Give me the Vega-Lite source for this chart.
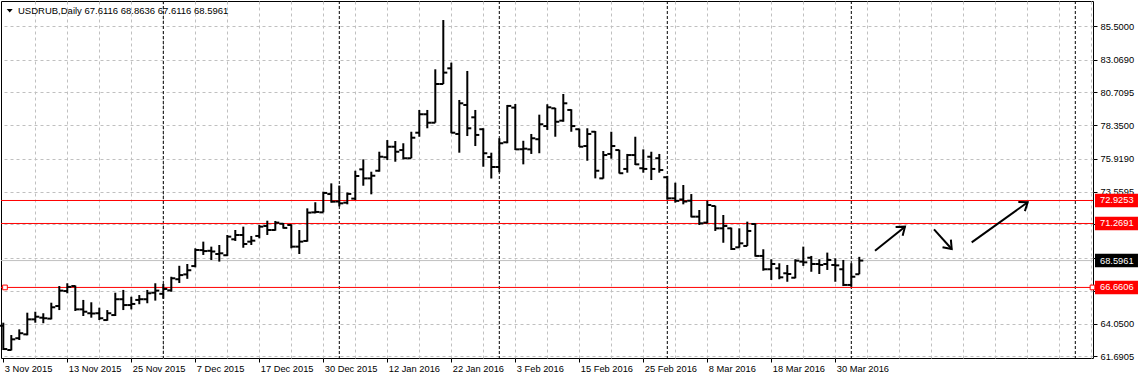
{
  "$schema": "https://vega.github.io/schema/vega-lite/v6.json",
  "width": 1092,
  "height": 357,
  "autosize": {"type": "none"},
  "padding": {"left": 1, "top": 1, "right": 45, "bottom": 22},
  "background": "white",
  "config": {
    "view": {"stroke": "black", "strokeWidth": 1},
    "font": "Liberation Sans",
    "axis": {"labelFont": "Liberation Sans", "labelFontSize": 9.3, "labelColor": "black", "tickColor": "black", "title": null}
  },
  "datasets": {
    "bars": [
      {"d":"2015-11-03","i":0,"o":63.9,"h":64.12,"l":62.15,"c":62.22},
      {"d":"2015-11-04","i":1,"o":62.15,"h":63.23,"l":62.12,"c":62.92},
      {"d":"2015-11-05","i":2,"o":63.0,"h":63.64,"l":62.87,"c":63.36},
      {"d":"2015-11-06","i":3,"o":63.28,"h":64.84,"l":63.21,"c":64.36},
      {"d":"2015-11-09","i":4,"o":64.36,"h":64.91,"l":64.12,"c":64.55},
      {"d":"2015-11-10","i":5,"o":64.48,"h":64.8,"l":64.08,"c":64.44},
      {"d":"2015-11-11","i":6,"o":64.41,"h":65.56,"l":64.36,"c":65.23},
      {"d":"2015-11-12","i":7,"o":65.32,"h":66.76,"l":65.03,"c":66.43},
      {"d":"2015-11-13","i":8,"o":66.4,"h":66.96,"l":66.24,"c":66.7},
      {"d":"2015-11-16","i":9,"o":66.76,"h":66.8,"l":64.96,"c":65.08},
      {"d":"2015-11-17","i":10,"o":65.08,"h":65.76,"l":64.6,"c":64.91},
      {"d":"2015-11-18","i":11,"o":64.8,"h":65.59,"l":64.48,"c":64.78},
      {"d":"2015-11-19","i":12,"o":64.8,"h":65.2,"l":64.31,"c":64.44},
      {"d":"2015-11-20","i":13,"o":64.31,"h":65.03,"l":64.26,"c":64.8},
      {"d":"2015-11-23","i":14,"o":64.67,"h":66.28,"l":64.6,"c":65.81},
      {"d":"2015-11-24","i":15,"o":65.81,"h":66.48,"l":65.03,"c":65.39},
      {"d":"2015-11-25","i":16,"o":65.39,"h":65.99,"l":65.08,"c":65.47},
      {"d":"2015-11-26","i":17,"o":65.76,"h":66.11,"l":65.45,"c":65.81},
      {"d":"2015-11-27","i":18,"o":65.81,"h":66.48,"l":65.52,"c":66.24},
      {"d":"2015-11-30","i":19,"o":66.28,"h":66.96,"l":65.71,"c":66.43},
      {"d":"2015-12-01","i":20,"o":66.2,"h":66.91,"l":65.85,"c":66.55},
      {"d":"2015-12-02","i":21,"o":66.45,"h":67.43,"l":66.35,"c":67.32},
      {"d":"2015-12-03","i":22,"o":67.25,"h":68.22,"l":66.98,"c":67.55},
      {"d":"2015-12-04","i":23,"o":67.6,"h":68.35,"l":67.28,"c":67.9},
      {"d":"2015-12-07","i":24,"o":68.2,"h":69.48,"l":68.11,"c":69.36},
      {"d":"2015-12-08","i":25,"o":69.35,"h":69.96,"l":69.0,"c":69.28},
      {"d":"2015-12-09","i":26,"o":69.3,"h":69.6,"l":68.64,"c":69.25},
      {"d":"2015-12-10","i":27,"o":69.07,"h":69.72,"l":68.52,"c":69.12},
      {"d":"2015-12-11","i":28,"o":68.98,"h":70.44,"l":68.93,"c":70.32},
      {"d":"2015-12-14","i":29,"o":70.13,"h":70.8,"l":70.01,"c":70.44},
      {"d":"2015-12-15","i":30,"o":70.44,"h":71.04,"l":69.52,"c":69.79},
      {"d":"2015-12-16","i":31,"o":69.96,"h":70.37,"l":69.72,"c":70.03},
      {"d":"2015-12-17","i":32,"o":70.37,"h":71.16,"l":70.2,"c":71.04},
      {"d":"2015-12-18","i":33,"o":71.09,"h":71.47,"l":70.44,"c":70.8},
      {"d":"2015-12-21","i":34,"o":70.8,"h":71.45,"l":70.75,"c":71.33},
      {"d":"2015-12-22","i":35,"o":71.25,"h":71.3,"l":70.9,"c":70.95},
      {"d":"2015-12-23","i":36,"o":71.16,"h":71.21,"l":69.48,"c":69.6},
      {"d":"2015-12-24","i":37,"o":69.6,"h":70.8,"l":69.07,"c":69.96},
      {"d":"2015-12-28","i":38,"o":70.01,"h":72.36,"l":69.96,"c":72.05},
      {"d":"2015-12-29","i":39,"o":72.07,"h":72.8,"l":72.0,"c":72.1},
      {"d":"2015-12-30","i":40,"o":72.07,"h":73.56,"l":72.07,"c":73.47},
      {"d":"2015-12-31","i":41,"o":73.39,"h":74.16,"l":72.77,"c":72.84},
      {"d":"2016-01-04","i":42,"o":72.85,"h":74.0,"l":72.5,"c":72.72},
      {"d":"2016-01-05","i":43,"o":72.77,"h":73.5,"l":72.65,"c":73.4},
      {"d":"2016-01-06","i":44,"o":73.06,"h":75.07,"l":72.96,"c":74.69},
      {"d":"2016-01-07","i":45,"o":75.17,"h":75.89,"l":73.99,"c":74.52},
      {"d":"2016-01-08","i":46,"o":74.52,"h":75.0,"l":73.37,"c":74.71},
      {"d":"2016-01-11","i":47,"o":75.07,"h":76.44,"l":75.0,"c":76.08},
      {"d":"2016-01-12","i":48,"o":76.04,"h":77.28,"l":75.84,"c":76.8},
      {"d":"2016-01-13","i":49,"o":76.8,"h":77.21,"l":75.72,"c":76.44},
      {"d":"2016-01-14","i":50,"o":76.56,"h":77.05,"l":75.89,"c":75.97},
      {"d":"2016-01-15","i":51,"o":75.97,"h":77.88,"l":75.97,"c":77.45},
      {"d":"2016-01-18","i":52,"o":77.81,"h":79.45,"l":77.52,"c":79.14},
      {"d":"2016-01-19","i":53,"o":79.14,"h":79.45,"l":78.13,"c":78.53},
      {"d":"2016-01-20","i":54,"o":78.53,"h":82.38,"l":78.53,"c":81.32},
      {"d":"2016-01-21","i":55,"o":81.32,"h":85.93,"l":81.32,"c":82.14},
      {"d":"2016-01-22","i":56,"o":82.45,"h":82.86,"l":77.77,"c":77.81},
      {"d":"2016-01-25","i":57,"o":77.72,"h":80.17,"l":76.37,"c":79.93},
      {"d":"2016-01-26","i":58,"o":79.81,"h":82.26,"l":77.57,"c":78.13},
      {"d":"2016-01-27","i":59,"o":78.92,"h":79.45,"l":76.85,"c":77.65},
      {"d":"2016-01-28","i":60,"o":78.06,"h":78.13,"l":75.36,"c":76.33},
      {"d":"2016-01-29","i":61,"o":76.06,"h":76.37,"l":74.51,"c":75.34},
      {"d":"2016-02-01","i":62,"o":75.34,"h":77.41,"l":74.96,"c":77.05},
      {"d":"2016-02-02","i":63,"o":77.12,"h":79.81,"l":77.05,"c":79.74},
      {"d":"2016-02-03","i":64,"o":79.62,"h":79.88,"l":76.56,"c":76.61},
      {"d":"2016-02-04","i":65,"o":76.62,"h":77.23,"l":75.53,"c":76.66},
      {"d":"2016-02-05","i":66,"o":76.61,"h":77.72,"l":76.28,"c":77.41},
      {"d":"2016-02-08","i":67,"o":77.34,"h":79.11,"l":76.33,"c":78.42},
      {"d":"2016-02-09","i":68,"o":78.29,"h":79.86,"l":78.01,"c":79.64},
      {"d":"2016-02-10","i":69,"o":79.57,"h":79.6,"l":77.52,"c":78.6},
      {"d":"2016-02-11","i":70,"o":78.68,"h":80.6,"l":78.6,"c":79.93},
      {"d":"2016-02-12","i":71,"o":79.45,"h":79.5,"l":77.88,"c":78.29},
      {"d":"2016-02-15","i":72,"o":78.06,"h":78.1,"l":76.78,"c":76.8},
      {"d":"2016-02-16","i":73,"o":76.85,"h":78.13,"l":75.79,"c":77.72},
      {"d":"2016-02-17","i":74,"o":77.88,"h":77.93,"l":74.52,"c":75.07},
      {"d":"2016-02-18","i":75,"o":74.52,"h":76.49,"l":74.5,"c":76.2},
      {"d":"2016-02-19","i":76,"o":76.28,"h":77.88,"l":75.94,"c":76.85},
      {"d":"2016-02-22","i":77,"o":76.56,"h":76.58,"l":74.87,"c":74.89},
      {"d":"2016-02-23","i":78,"o":75.2,"h":76.28,"l":74.93,"c":76.2},
      {"d":"2016-02-24","i":79,"o":76.2,"h":77.52,"l":75.48,"c":75.53},
      {"d":"2016-02-25","i":80,"o":75.25,"h":76.61,"l":74.93,"c":75.2},
      {"d":"2016-02-26","i":81,"o":76.08,"h":76.44,"l":74.4,"c":75.2},
      {"d":"2016-02-29","i":82,"o":75.97,"h":76.28,"l":74.93,"c":75.12},
      {"d":"2016-03-01","i":83,"o":74.6,"h":74.7,"l":72.98,"c":73.08},
      {"d":"2016-03-02","i":84,"o":73.08,"h":74.21,"l":72.77,"c":72.9},
      {"d":"2016-03-03","i":85,"o":73.0,"h":74.04,"l":72.65,"c":72.85},
      {"d":"2016-03-04","i":86,"o":72.91,"h":73.39,"l":71.71,"c":71.76},
      {"d":"2016-03-07","i":87,"o":71.76,"h":72.24,"l":71.16,"c":71.28},
      {"d":"2016-03-08","i":88,"o":71.33,"h":72.91,"l":71.28,"c":72.6},
      {"d":"2016-03-09","i":89,"o":72.53,"h":72.55,"l":70.73,"c":70.92},
      {"d":"2016-03-10","i":90,"o":70.92,"h":71.88,"l":69.88,"c":71.09},
      {"d":"2016-03-11","i":91,"o":70.92,"h":70.97,"l":69.36,"c":69.43},
      {"d":"2016-03-14","i":92,"o":69.55,"h":70.92,"l":69.52,"c":69.84},
      {"d":"2016-03-15","i":93,"o":69.65,"h":71.4,"l":69.65,"c":70.73},
      {"d":"2016-03-16","i":94,"o":71.23,"h":71.28,"l":68.88,"c":68.93},
      {"d":"2016-03-17","i":95,"o":68.93,"h":69.41,"l":67.87,"c":67.97},
      {"d":"2016-03-18","i":96,"o":67.97,"h":68.69,"l":67.2,"c":68.35},
      {"d":"2016-03-21","i":97,"o":68.04,"h":68.4,"l":67.25,"c":67.39},
      {"d":"2016-03-22","i":98,"o":67.68,"h":68.28,"l":67.07,"c":67.63},
      {"d":"2016-03-23","i":99,"o":67.36,"h":68.69,"l":67.32,"c":68.59},
      {"d":"2016-03-24","i":100,"o":68.52,"h":69.6,"l":68.21,"c":68.47},
      {"d":"2016-03-25","i":101,"o":68.8,"h":68.93,"l":67.79,"c":68.35},
      {"d":"2016-03-28","i":102,"o":68.35,"h":68.69,"l":67.63,"c":68.28},
      {"d":"2016-03-29","i":103,"o":68.35,"h":69.17,"l":67.92,"c":68.64},
      {"d":"2016-03-30","i":104,"o":68.28,"h":68.76,"l":67.07,"c":68.25},
      {"d":"2016-03-31","i":105,"o":67.97,"h":68.64,"l":66.76,"c":66.84},
      {"d":"2016-04-01","i":106,"o":66.84,"h":68.4,"l":66.71,"c":67.43},
      {"d":"2016-04-04","i":107,"o":67.6116,"h":68.8636,"l":67.6116,"c":68.5961}
    ],
    "levels": [
      {"p": 72.9253, "type": "level"},
      {"p": 71.2691, "type": "level"},
      {"p": 66.6606, "type": "level"},
      {"p": 68.5961, "type": "bid"}
    ],
    "handles": [
      {"i": 0.21, "p": 66.6606},
      {"i": 136.15, "p": 66.6606}
    ],
    "seps": [{"i": 20}, {"i": 42}, {"i": 62}, {"i": 83}, {"i": 106}, {"i": 134}],
    "arrows": [
      {"x0": 108.96, "p0": 69.31, "x1": 112.71, "p1": 71.04},
      {"x0": 116.34, "p0": 70.85, "x1": 118.55, "p1": 69.43},
      {"x0": 121.05, "p0": 69.91, "x1": 128.05, "p1": 72.8}
    ]
  },
  "layer": [
    {
      "data": {"name": "seps"},
      "mark": {"type": "rule", "color": "black", "strokeDash": [3, 2], "strokeWidth": 1},
      "encoding": {
        "x": {"field": "i", "type": "quantitative",
              "scale": {"domain": [-0.2875, 136.2125], "nice": false, "zero": false},
              "axis": {"orient": "top", "values": [3.9625,7.9625,11.9625,15.9625,19.9625,23.9625,27.9625,31.9625,35.9625,39.9625,43.9625,47.9625,51.9625,55.9625,59.9625,63.9625,67.9625,71.9625,75.9625,79.9625,83.9625,87.9625,91.9625,95.9625,99.9625,103.9625,107.9625,111.9625,115.9625,119.9625,123.9625,127.9625,131.9625,135.9625],
                       "grid": true, "gridColor": "#c0c0c0", "gridDash": [3, 3], "gridWidth": 1,
                       "labels": false, "ticks": false, "domain": false, "title": null}}
      }
    },
    {
      "data": {"name": "levels"},
      "mark": {"type": "rule", "strokeWidth": 1},
      "encoding": {
        "y": {"field": "p", "type": "quantitative", "scale": {"domain": [61.575, 87.3016], "nice": false, "zero": false},
              "axis": {"orient": "right", "values": [61.6905,64.05,66.4095,68.769,71.2,73.5595,75.919,78.35,80.7095,83.069,85.5],
                       "format": ".4f", "grid": true, "gridColor": "#c0c0c0", "gridDash": [3, 3], "gridWidth": 1,
                       "domain": false, "tickSize": 4, "tickColor": "black", "labelPadding": 3, "labelOverlap": false, "labelBound": false, "title": null}},
        "color": {"condition": {"test": "datum.type == 'bid'", "value": "#c0c0c0"}, "value": "#ff0000"}
      }
    },
    {
      "data": {"name": "bars"},
      "mark": {"type": "rule", "color": "black", "strokeWidth": 2},
      "encoding": {
        "x": {"field": "i", "type": "quantitative",
              "scale": {"domain": [-0.2875, 136.2125], "nice": false, "zero": false},
              "axis": {"orient": "bottom", "values": [0,8,16,24,32,40,48,56,64,72,80,88,96,104],
                       "labelExpr": "['3 Nov 2015','13 Nov 2015','25 Nov 2015','7 Dec 2015','17 Dec 2015','30 Dec 2015','12 Jan 2016','22 Jan 2016','3 Feb 2016','15 Feb 2016','25 Feb 2016','8 Mar 2016','18 Mar 2016','30 Mar 2016'][round(datum.value / 8)]",
                       "grid": false, "domain": false, "ticks": true, "tickSize": 4, "tickColor": "black",
                       "labelAlign": "left", "labelPadding": 2, "labelOffset": 1, "labelOverlap": false, "labelFlush": false, "labelBound": false, "title": null}},
        "y": {"field": "l", "type": "quantitative",
              "scale": {"domain": [61.575, 87.3016], "nice": false, "zero": false}, "axis": null},
        "y2": {"field": "h"}
      }
    },
    {
      "data": {"name": "bars"},
      "mark": {"type": "point", "shape": "M-1,0H0", "size": 64, "filled": false, "stroke": "black", "strokeWidth": 2, "opacity": 1},
      "encoding": {
        "x": {"field": "i", "type": "quantitative", "scale": {"domain": [-0.2875, 136.2125], "nice": false, "zero": false}, "axis": null},
        "y": {"field": "o", "type": "quantitative", "scale": {"domain": [61.575, 87.3016], "nice": false, "zero": false}, "axis": null}
      }
    },
    {
      "data": {"name": "bars"},
      "mark": {"type": "point", "shape": "M0,0H1", "size": 64, "filled": false, "stroke": "black", "strokeWidth": 2, "opacity": 1},
      "encoding": {
        "x": {"field": "i", "type": "quantitative", "scale": {"domain": [-0.2875, 136.2125], "nice": false, "zero": false}, "axis": null},
        "y": {"field": "c", "type": "quantitative", "scale": {"domain": [61.575, 87.3016], "nice": false, "zero": false}, "axis": null}
      }
    },
    {
      "data": {"name": "arrows"},
      "mark": {"type": "rule", "color": "black", "strokeWidth": 2},
      "encoding": {
        "x": {"field": "x0", "type": "quantitative", "scale": {"domain": [-0.2875, 136.2125], "nice": false, "zero": false}, "axis": null},
        "x2": {"field": "x1"},
        "y": {"field": "p0", "type": "quantitative", "scale": {"domain": [61.575, 87.3016], "nice": false, "zero": false}, "axis": null},
        "y2": {"field": "p1"}
      }
    },
    {
      "data": {"name": "arrows"},
      "transform": [{"calculate": "atan2(-(datum.p1 - datum.p0) * 13.877, (datum.x1 - datum.x0) * 8) * 180 / PI", "as": "ang"}],
      "mark": {"type": "point", "shape": "M-1,-0.75L0,0L-1,0.75", "size": 225, "filled": false, "stroke": "black", "strokeWidth": 2, "opacity": 1},
      "encoding": {
        "x": {"field": "x1", "type": "quantitative", "scale": {"domain": [-0.2875, 136.2125], "nice": false, "zero": false}, "axis": null},
        "y": {"field": "p1", "type": "quantitative", "scale": {"domain": [61.575, 87.3016], "nice": false, "zero": false}, "axis": null},
        "angle": {"field": "ang", "type": "quantitative", "scale": null}
      }
    },
    {
      "data": {"name": "handles"},
      "mark": {"type": "point", "shape": "square", "size": 22, "filled": true, "fill": "white", "stroke": "#ff0000", "strokeWidth": 1, "opacity": 1},
      "encoding": {
        "x": {"field": "i", "type": "quantitative", "scale": {"domain": [-0.2875, 136.2125], "nice": false, "zero": false}, "axis": null},
        "y": {"field": "p", "type": "quantitative", "scale": {"domain": [61.575, 87.3016], "nice": false, "zero": false}, "axis": null}
      }
    },
    {
      "data": {"name": "levels"},
      "mark": {"type": "point", "shape": "M-1.5,-0.47H1.5V0.47H-1.5Z", "size": 821, "filled": true, "strokeWidth": 0, "opacity": 1},
      "encoding": {
        "x": {"datum": 139.15, "type": "quantitative", "scale": {"domain": [-0.2875, 136.2125], "nice": false, "zero": false}, "axis": null},
        "y": {"field": "p", "type": "quantitative", "scale": {"domain": [61.575, 87.3016], "nice": false, "zero": false}, "axis": null},
        "fill": {"condition": {"test": "datum.type == 'bid'", "value": "black"}, "value": "#ff0000"}
      }
    },
    {
      "data": {"name": "levels"},
      "mark": {"type": "text", "align": "left", "baseline": "middle", "color": "white", "font": "Liberation Sans", "fontSize": 9.3},
      "encoding": {
        "x": {"datum": 137.09, "type": "quantitative", "scale": {"domain": [-0.2875, 136.2125], "nice": false, "zero": false}, "axis": null},
        "y": {"field": "p", "type": "quantitative", "scale": {"domain": [61.575, 87.3016], "nice": false, "zero": false}, "axis": null},
        "text": {"field": "p", "type": "quantitative", "format": ".4f"}
      }
    },
    {
      "data": {"values": [{"t": "USDRUB,Daily  67.6116 68.8636 67.6116 68.5961"}]},
      "mark": {"type": "text", "align": "left", "baseline": "middle", "color": "black", "font": "Liberation Sans", "fontSize": 9.5},
      "encoding": {
        "x": {"datum": 1.8375, "type": "quantitative", "scale": {"domain": [-0.2875, 136.2125], "nice": false, "zero": false}, "axis": null},
        "y": {"datum": 86.55, "type": "quantitative", "scale": {"domain": [61.575, 87.3016], "nice": false, "zero": false}, "axis": null},
        "text": {"field": "t"}
      }
    },
    {
      "data": {"values": [{"t": "menu"}]},
      "mark": {"type": "point", "shape": "M-1,-0.6L1,-0.6L0,0.6Z", "size": 36, "filled": true, "fill": "black", "strokeWidth": 0, "opacity": 1},
      "encoding": {
        "x": {"datum": 0.8, "type": "quantitative", "scale": {"domain": [-0.2875, 136.2125], "nice": false, "zero": false}, "axis": null},
        "y": {"datum": 86.6, "type": "quantitative", "scale": {"domain": [61.575, 87.3016], "nice": false, "zero": false}, "axis": null}
      }
    }
  ],
  "resolve": {"axis": {"x": "independent", "y": "independent"}}
}
